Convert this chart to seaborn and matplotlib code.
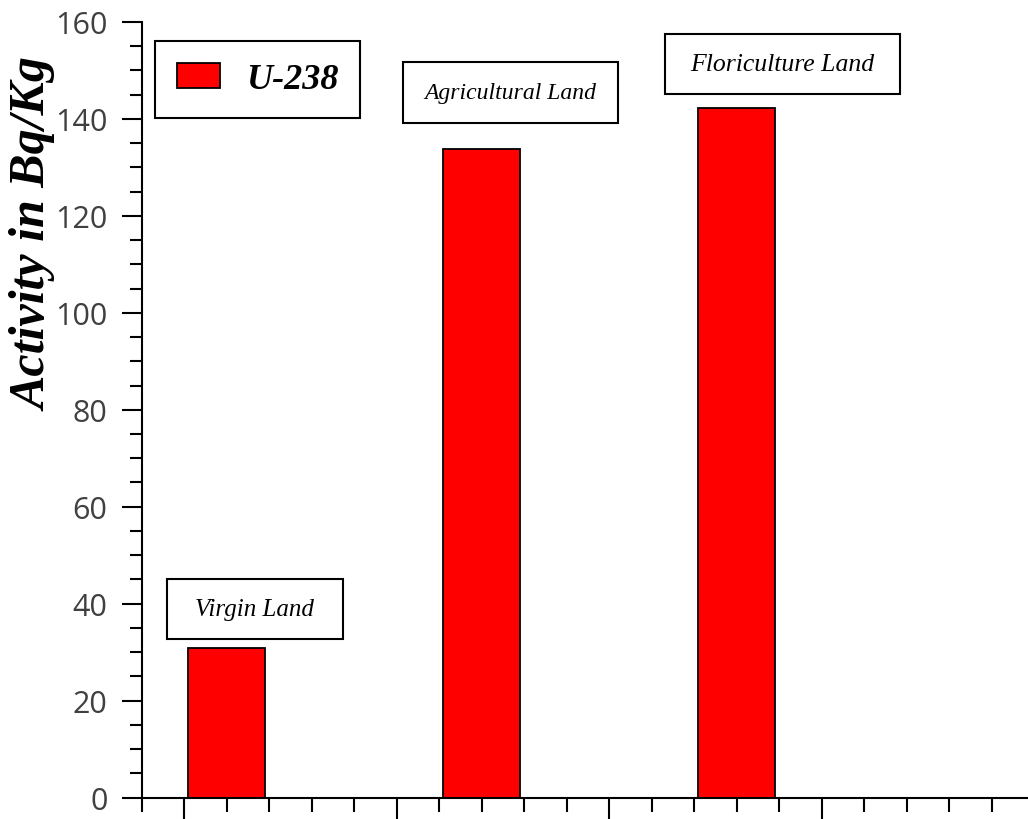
import numpy as np
import pandas as pd
import matplotlib
matplotlib.use("Agg")
import matplotlib.pyplot as plt
from matplotlib.patches import Rectangle
from matplotlib.ticker import MultipleLocator, NullFormatter
import seaborn as sns

# U-238 activity per land type
sites = ["Virgin Land", "Agricultural Land", "Floriculture Land"]
site_x = [1.2, 2.4, 3.6]
u238_activity = [30.8, 133.9, 142.2]
nuclide = "U-238"

# boxed site labels: centre and size in data units, font size in pt
box_cx = [1.333, 2.536, 3.816]
box_cy = [38.9, 145.45, 151.3]
box_w = [0.830, 1.012, 1.106]
box_h = [12.4, 12.6, 12.4]
label_pt = [18, 17, 18.5]

sns.set_style("ticks")
plt.rcParams["font.family"] = ["Liberation Serif", "DejaVu Serif"]
plt.rcParams["axes.linewidth"] = 1.5
plt.rcParams["axes.edgecolor"] = "black"
plt.rcParams["xtick.color"] = "black"
plt.rcParams["ytick.color"] = "black"
plt.rcParams["text.color"] = "black"

df = pd.DataFrame({"position": site_x, "activity": u238_activity})

fig = plt.figure(figsize=(10.28, 8.2), dpi=100)
ax = fig.add_axes([141.5 / 1028, 21.5 / 820, (1034 - 141.5) / 1028, 775.5 / 820])

sns.barplot(data=df, x="position", y="activity", native_scale=True, width=0.3,
            color="#ff0000", saturation=1, edgecolor="black", linewidth=1.3,
            label=nuclide, ax=ax, zorder=2)

ax.set_xlim(0.8, 5.0)
ax.set_ylim(0, 160)
ax.set_xlabel("")
ax.spines["top"].set_visible(False)
ax.spines["right"].set_visible(False)

ax.xaxis.set_major_locator(MultipleLocator(1))
ax.xaxis.set_minor_locator(MultipleLocator(0.2))
ax.xaxis.set_major_formatter(NullFormatter())
ax.yaxis.set_major_locator(MultipleLocator(20))
ax.yaxis.set_minor_locator(MultipleLocator(5))

ax.tick_params(axis="x", which="major", length=18, width=1.5, direction="out")
ax.tick_params(axis="x", which="minor", length=10, width=1.5, direction="out")
ax.tick_params(axis="y", which="major", length=14.4, width=1.5, direction="out",
               pad=10, labelsize=22, labelcolor="#404040")
ax.tick_params(axis="y", which="minor", length=8.6, width=1.5, direction="out")
for t in ax.get_yticklabels():
    t.set_fontfamily(["Open Sans", "DejaVu Sans"])

ax.set_ylabel("Activity in Bq/Kg", fontsize=36, fontweight="bold",
              fontstyle="italic", va="center", color="black")
ax.yaxis.set_label_coords((35 - 141.5) / 892.5, (798.5 - 234.5) / 775.5)

# boxed labels over each bar
for name, cx, cy, w, h, fs in zip(sites, box_cx, box_cy, box_w, box_h, label_pt):
    ax.add_patch(Rectangle((cx - w / 2, cy - h / 2), w, h, facecolor="white",
                           edgecolor="black", linewidth=1.5, zorder=4,
                           clip_on=False))
    ax.text(cx, cy, name, ha="center", va="center", fontsize=fs,
            fontstyle="italic", color="black", zorder=5)

leg = ax.legend(loc="upper left", bbox_to_anchor=((155 - 141.5) / 892.5, (798.5 - 42) / 775.5),
                prop={"family": "Liberation Serif", "weight": "bold", "style": "italic", "size": 26},
                frameon=True, fancybox=False, framealpha=1, edgecolor="black",
                handlelength=1.2, handleheight=0.7, handletextpad=0.72,
                borderpad=0.6, borderaxespad=0)
leg.get_frame().set_linewidth(1.5)
for txt in leg.get_texts():
    txt.set_color("black")

fig.savefig("out.png", dpi=100, facecolor="white")
